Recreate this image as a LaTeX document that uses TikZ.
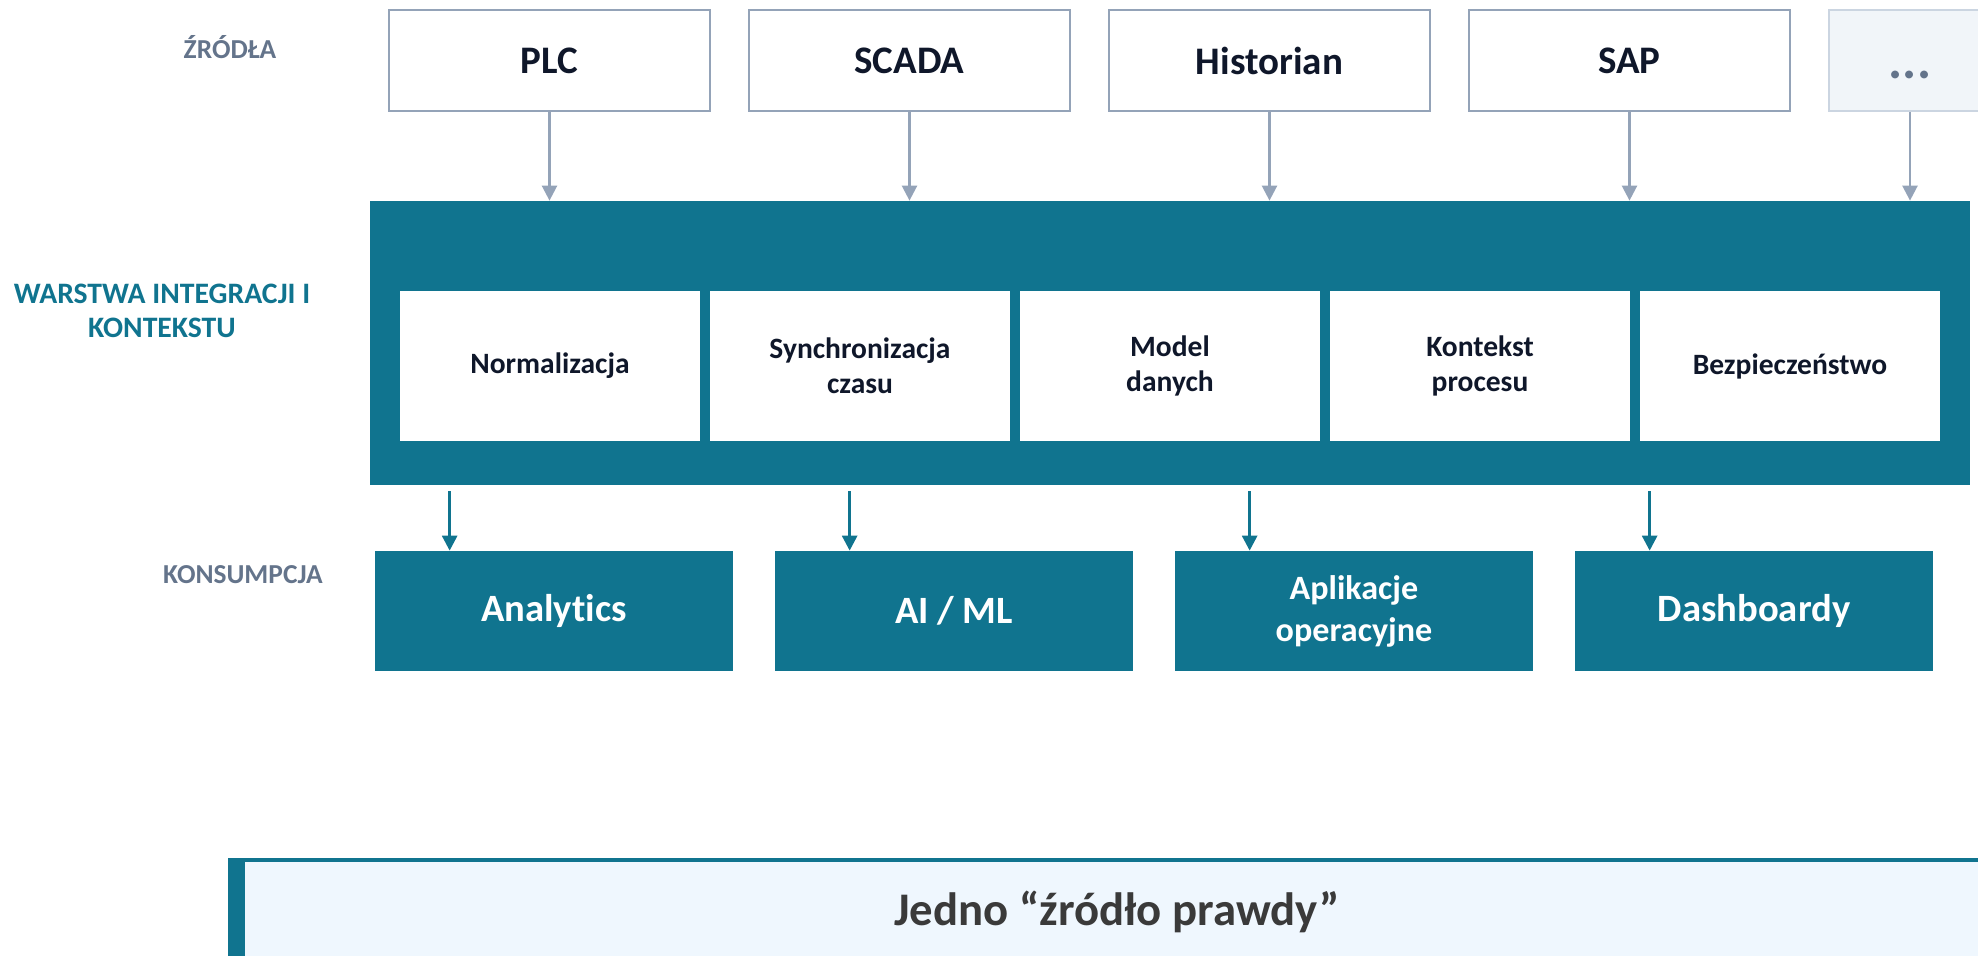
\documentclass[tikz,border=0pt]{standalone}
\usepackage{fontspec}
\setmainfont{Carlito}[Ligatures=NoCommon]
\usepackage{xcolor}
\usepackage{tikz}
\usetikzlibrary{arrows.meta,positioning}
\definecolor{tealband}{RGB}{16, 116, 143}
\definecolor{inkdark}{RGB}{15, 23, 42}
\definecolor{slatelabel}{RGB}{100, 116, 139}
\definecolor{slatearrow}{RGB}{148, 163, 184}
\definecolor{dotsfill}{RGB}{241, 245, 249}
\definecolor{dotsline}{RGB}{203, 213, 225}
\definecolor{truthfill}{RGB}{239, 247, 254}
\definecolor{truthtext}{RGB}{58, 58, 58}

\begin{document}
\begin{tikzpicture}[
    source/.style={draw=slatearrow, line width=1.2pt, fill=white, minimum width=6.42cm, minimum height=2.02cm, font=\fontsize{22.2}{26}\selectfont\bfseries, text=inkdark},
    module/.style={fill=white, minimum width=6cm, minimum height=3cm, align=center, font=\fontsize{16.8}{19.9}\selectfont\bfseries, text=inkdark},
    consumer/.style={fill=tealband, minimum width=7.16cm, minimum height=2.4cm, align=center, text=white, font=\fontsize{22}{26}\selectfont\bfseries},
    layerlabel/.style={font=\fontsize{15.6}{19.6}\selectfont\bfseries, text=slatelabel, align=center},
    inarrow/.style={-{Triangle[width=8.5pt,length=8.5pt]}, slatearrow, line width=1.4pt},
    outarrow/.style={-{Triangle[width=8.5pt,length=8.5pt]}, tealband, line width=1.6pt}
]
            \useasboundingbox (0,0) rectangle (39.56,19.12);

            % Sources
            \node[layerlabel] (srclabel) at (4.6,18.18) {ŹRÓDŁA};
            \node[source] (plc) at (10.99,17.91) {PLC};
            \node[source] (scada) at (18.19,17.91) {SCADA};
            \node[source] (historian) at (25.39,17.91) {Historian};
            \node[source] (sap) at (32.59,17.91) {SAP};
            \node[source, draw=dotsline, fill=dotsfill, minimum width=3.24cm, text=slatelabel, font=\fontsize{30}{36}\selectfont\bfseries, text height=20pt, text depth=0pt] (more) at (38.2,17.91) {...};

            % Integration layer
            \node[layerlabel, text=tealband, font=\fontsize{16.9}{19.6}\selectfont\bfseries] (intlabel) at (3.24,12.9) {WARSTWA INTEGRACJI I\\KONTEKSTU};
            \node[fill=tealband, minimum width=32cm, minimum height=5.68cm, inner sep=0pt] (band) at (23.4,12.26) {};
            \node[module] (norm) at (11,11.8) {Normalizacja};
            \node[module] (sync) at (17.2,11.8) {Synchronizacja\\czasu};
            \node[module] (model) at (23.4,11.8) {Model\\danych};
            \node[module] (ctx) at (29.6,11.8) {Kontekst\\procesu};
            \node[module] (sec) at (35.8,11.8) {Bezpieczeństwo};

            % Sources into the layer
            \draw[inarrow] (plc.south) -- (plc.south |- band.north);
            \draw[inarrow] (scada.south) -- (scada.south |- band.north);
            \draw[inarrow] (historian.south) -- (historian.south |- band.north);
            \draw[inarrow] (sap.south) -- (sap.south |- band.north);
            \draw[inarrow] (more.south) -- (more.south |- band.north);

            % Consumption
            \node[layerlabel] (conslabel) at (4.86,7.62) {KONSUMPCJA};
            \node[consumer] (analytics) at (11.08,6.9) {Analytics};
            \node[consumer] (aiml) at (19.08,6.9) {AI / ML};
            \node[consumer, font=\fontsize{19.4}{23.9}\selectfont\bfseries] (apps) at (27.08,6.9) {Aplikacje\\operacyjne};
            \node[consumer] (dash) at (35.08,6.9) {Dashboardy};

            % Layer into consumers
            \coordinate (c1) at ([xshift=1.5cm]analytics.north west);
            \coordinate (c2) at ([xshift=1.5cm]aiml.north west);
            \coordinate (c3) at ([xshift=1.5cm]apps.north west);
            \coordinate (c4) at ([xshift=1.5cm]dash.north west);
            \draw[outarrow] ([yshift=-0.12cm]c1 |- band.south) -- (c1);
            \draw[outarrow] ([yshift=-0.12cm]c2 |- band.south) -- (c2);
            \draw[outarrow] ([yshift=-0.12cm]c3 |- band.south) -- (c3);
            \draw[outarrow] ([yshift=-0.12cm]c4 |- band.south) -- (c4);

            % Single source of truth
            \fill[truthfill] (4.56,-0.5) rectangle (40.2,1.96);
            \fill[tealband] (4.56,-0.5) rectangle (4.9,1.96);
            \fill[tealband] (4.56,1.88) rectangle (40.2,1.96);
            \node[anchor=base, font=\fontsize{26.6}{31}\selectfont\bfseries, text=truthtext] (truth) at (22.34,0.6) {Jedno “źródło prawdy”};
        \end{tikzpicture}
\end{document}
